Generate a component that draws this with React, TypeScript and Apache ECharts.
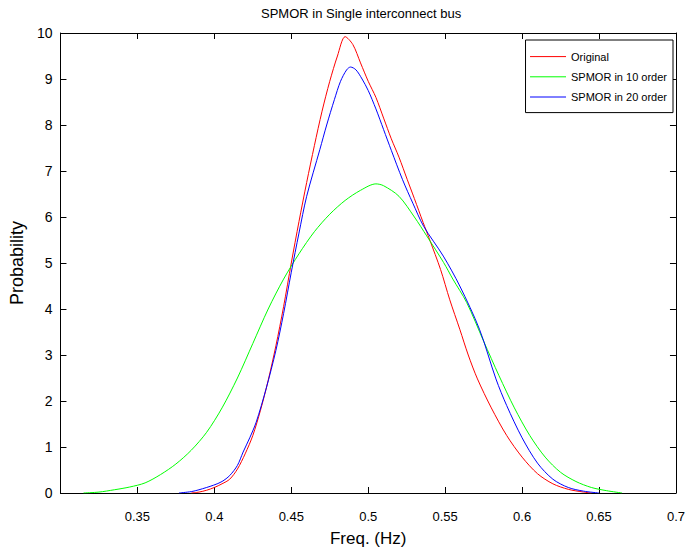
import React, { useEffect, useRef } from "react";
import * as echarts from "echarts";

const title = "SPMOR in Single interconnect bus";
const xName = "Freq. (Hz)";
const yName = "Probability";
const seriesNames = ["Original", "SPMOR in 10 order", "SPMOR in 20 order"];
const seriesColors = ["#ff0000", "#00ff00", "#0000ff"];

const originalFreq = [0.385, 0.39, 0.395, 0.4, 0.405, 0.41, 0.415, 0.42, 0.425, 0.43, 0.435, 0.44, 0.445, 0.45, 0.455, 0.46, 0.465, 0.47, 0.475, 0.48, 0.485, 0.49, 0.495, 0.5, 0.505, 0.51, 0.515, 0.52, 0.5253, 0.53, 0.5357, 0.54, 0.547, 0.553, 0.5595, 0.565, 0.571, 0.58, 0.59, 0.6, 0.61, 0.62, 0.63, 0.64, 0.645];
const originalProb = [0, 0.02, 0.06, 0.12, 0.2, 0.3, 0.52, 0.85, 1.25, 1.8, 2.45, 3.2, 4.05, 5.0, 5.9, 6.75, 7.55, 8.3, 8.95, 9.5, 9.92, 9.75, 9.35, 8.95, 8.6, 8.15, 7.7, 7.3, 6.82, 6.4, 5.88, 5.5, 4.86, 4.2, 3.56, 3.0, 2.48, 1.85, 1.25, 0.78, 0.42, 0.2, 0.08, 0.02, 0];

const order10Freq = [0.315, 0.325, 0.335, 0.345, 0.355, 0.365, 0.375, 0.385, 0.395, 0.405, 0.415, 0.425, 0.435, 0.445, 0.455, 0.465, 0.475, 0.485, 0.495, 0.505, 0.51, 0.52, 0.53, 0.538, 0.549, 0.555, 0.564, 0.575, 0.585, 0.595, 0.605, 0.615, 0.625, 0.635, 0.645, 0.655, 0.665];
const order10Prob = [0, 0.02, 0.07, 0.13, 0.22, 0.4, 0.63, 0.93, 1.32, 1.85, 2.5, 3.25, 4.0, 4.65, 5.2, 5.68, 6.06, 6.36, 6.58, 6.72, 6.68, 6.45, 6.0, 5.59, 5.01, 4.65, 4.14, 3.3, 2.55, 1.85, 1.25, 0.78, 0.45, 0.25, 0.12, 0.05, 0];

const order20Freq = [0.377, 0.385, 0.39, 0.3995, 0.405, 0.41, 0.415, 0.4187, 0.423, 0.4272, 0.4336, 0.44, 0.445, 0.45, 0.455, 0.46, 0.4686, 0.473, 0.478, 0.482, 0.486, 0.4885, 0.492, 0.496, 0.5, 0.505, 0.51, 0.515, 0.5222, 0.529, 0.536, 0.5488, 0.5595, 0.5723, 0.583, 0.59, 0.6, 0.61, 0.62, 0.63, 0.64, 0.65];
const order20Prob = [0, 0.03, 0.07, 0.17, 0.25, 0.38, 0.6, 0.89, 1.2, 1.54, 2.26, 3.1, 3.9, 4.8, 5.65, 6.45, 7.47, 8.0, 8.55, 8.95, 9.2, 9.26, 9.2, 9.0, 8.75, 8.35, 7.9, 7.45, 6.82, 6.3, 5.8, 5.15, 4.5, 3.56, 2.48, 1.9, 1.2, 0.65, 0.3, 0.12, 0.04, 0];

const FONT = "'Liberation Sans', Arial, sans-serif";

function pairs(xs: number[], ys: number[]) {
  return xs.map((x, i) => [x, ys[i]]);
}

export default function App() {
  const ref = useRef<HTMLDivElement>(null);
  useEffect(() => {
    if (!ref.current) return;
    const chart = echarts.init(ref.current, undefined, { renderer: "svg" });
    const axisCommon = {
      axisLine: { show: true, onZero: false, lineStyle: { color: "#000", width: 1 } },
      axisTick: { show: true, inside: true, length: 6, lineStyle: { color: "#000" } },
      splitLine: { show: false },
    };
    const datasets = [
      pairs(originalFreq, originalProb),
      pairs(order10Freq, order10Prob),
      pairs(order20Freq, order20Prob),
    ];
    chart.setOption({
      animation: false,
      backgroundColor: "#fff",
      grid: { left: 55, right: 9, top: 33, bottom: 58, containLabel: false },
      graphic: [
        {
          type: "text",
          left: 361 - 100,
          top: 7,
          style: { text: title, font: `13px ${FONT}`, fill: "#000" },
        },
      ],
      legend: {
        orient: "vertical",
        right: 15,
        top: 40,
        padding: [11, 6, 10, 4],
        itemGap: 9,
        itemWidth: 36,
        itemHeight: 14,
        backgroundColor: "#fff",
        borderColor: "#000",
        borderWidth: 1,
        borderRadius: 0,
        itemStyle: { opacity: 0, borderWidth: 0 },
        lineStyle: { width: 1 },
        textStyle: { fontFamily: FONT, fontSize: 11, color: "#000" },
        data: seriesNames,
      },
      xAxis: [
        {
          type: "value",
          min: 0.3,
          max: 0.7,
          interval: 0.05,
          position: "bottom",
          ...axisCommon,
          name: xName,
          nameLocation: "middle",
          nameGap: 37,
          nameTextStyle: { fontFamily: FONT, fontSize: 17, color: "#000" },
          axisLabel: {
            showMinLabel: false,
            margin: 17,
            color: "#000",
            fontFamily: FONT,
            fontSize: 13,
            formatter: (v: number) => String(Math.round(v * 100) / 100),
          },
        },
        {
          type: "value",
          min: 0.3,
          max: 0.7,
          interval: 0.05,
          position: "top",
          ...axisCommon,
          axisLabel: { show: false },
        },
      ],
      yAxis: [
        {
          type: "value",
          min: 0,
          max: 10,
          interval: 1,
          position: "left",
          ...axisCommon,
          name: yName,
          nameLocation: "middle",
          nameGap: 33,
          nameTextStyle: { fontFamily: FONT, fontSize: 18, color: "#000" },
          axisLabel: { margin: 8, color: "#000", fontFamily: FONT, fontSize: 14 },
        },
        {
          type: "value",
          min: 0,
          max: 10,
          interval: 1,
          position: "right",
          ...axisCommon,
          axisLabel: { show: false },
        },
      ],
      series: datasets.map((d, i) => ({
        name: seriesNames[i],
        type: "line",
        data: d,
        symbol: "none",
        smooth: 0.3,
        lineStyle: { color: seriesColors[i], width: 1 },
        itemStyle: { color: seriesColors[i] },
      })),
    });
    return () => chart.dispose();
  }, []);
  return (
    <div
      ref={ref}
      style={{ position: "fixed", left: 0, top: 0, width: 688, height: 552, background: "#fff" }}
    />
  );
}
